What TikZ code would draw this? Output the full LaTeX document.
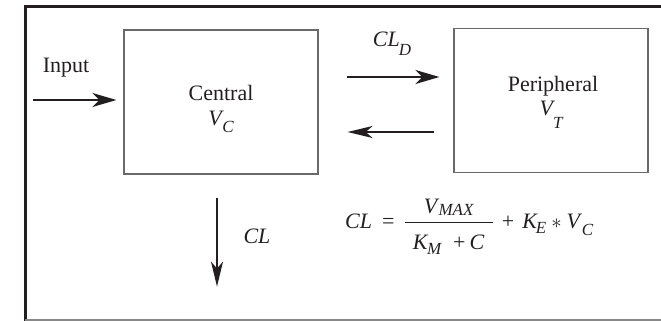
\documentclass[tikz,border=0pt]{standalone}
\usepackage{amsmath}
\usepackage{fontspec}
\setmainfont{Liberation Serif}
\usetikzlibrary{arrows.meta,calc}
\DeclareMathSizes{22}{22}{17}{12}
% italic base with lowered italic subscript: \sbs{base}{drop}{sub}{kern}
\newcommand{\sbs}[4]{\textit{#1}\kern#4\raisebox{-#2}{\fontsize{17}{17}\selectfont\itshape #3}}
\definecolor{ink}{HTML}{231F20}
\definecolor{boxline}{HTML}{6A6A6A}
\begin{document}
\begin{tikzpicture}[x=1pt,y=-1pt,
  txt/.style={inner sep=0pt, anchor=base, text=ink, font=\fontsize{22}{20}\selectfont},
  compbox/.style={draw=boxline, line width=1.2pt, minimum width=194pt, minimum height=144pt, inner sep=0pt},
  heavyarrow/.style={draw=ink, line width=2.8pt, -{Stealth[length=24pt,width=14pt,inset=7pt]}},
  lightarrow/.style={draw=ink, line width=1.8pt, -{Stealth[length=25pt,width=12pt,inset=7pt]}}]
\useasboundingbox (0,0) rectangle (661,321);
% frame
\draw[draw=ink, line width=3pt] (25,321) -- (25,7) -- (661,7);
\draw[draw=boxline!80, line width=1.3pt] (25,320) -- (661,320);
% boxes
\node[compbox] (central) at (221,102) {};
\node[compbox] (periph) at (551,100.5) {};
% texts
\node[txt] (input) at (66,73) {Input};
\node[txt] (ctitle) at (221,100) {Central};
\node[txt] (cvol) at (221,125) {\sbs{V}{7pt}{C}{-1.5pt}};
\node[txt] (ptitle) at (553,91) {Peripheral};
\node[txt] (pvol) at (551,115) {\sbs{V}{13pt}{T}{-2pt}};
\node[txt] (cld) at (392,47) {\sbs{CL}{9pt}{D}{-1pt}};
\node[txt] (cl) at (257,243) {\textit{CL}};
\node[txt, anchor=base west] (formula) at (345,228)
  {\textit{CL}\hspace{10pt}=\hspace{9pt}$\dfrac{\makebox[88pt]{\sbs{V}{2pt}{MAX}{-1pt}}}{\raisebox{-7pt}{\makebox[88pt]{\sbs{K}{5pt}{M}{-1.5pt}\hspace{12pt}+\hspace{4pt}\textit{C}}}}$\hspace{8pt}+\hspace{8pt}\sbs{K}{5pt}{E}{-2pt}\hspace{5pt}$\ast$\hspace{5pt}\sbs{V}{7pt}{C}{-0.5pt}};
% arrow ends
\coordinate (inS) at (33,100);
\coordinate (inE) at ($(central.west)+(-7,-2)$);
\coordinate (dS) at ($(central.east)+(28,-25)$);
\coordinate (dE) at ($(periph.west)+(-14,-23.5)$);
\coordinate (rS) at ($(periph.west)+(-19,31.5)$);
\coordinate (rE) at ($(central.east)+(29,30)$);
\coordinate (oS) at ($(central.south)+(-4,23)$);
\coordinate (oE) at ($(central.south)+(-4,112)$);
% arrows
\draw[heavyarrow] (inS) -- (inE);
\draw[heavyarrow] (dS) -- (dE);
\draw[lightarrow] (rS) -- (rE);
\draw[lightarrow] (oS) -- (oE);
\end{tikzpicture}
\end{document}
